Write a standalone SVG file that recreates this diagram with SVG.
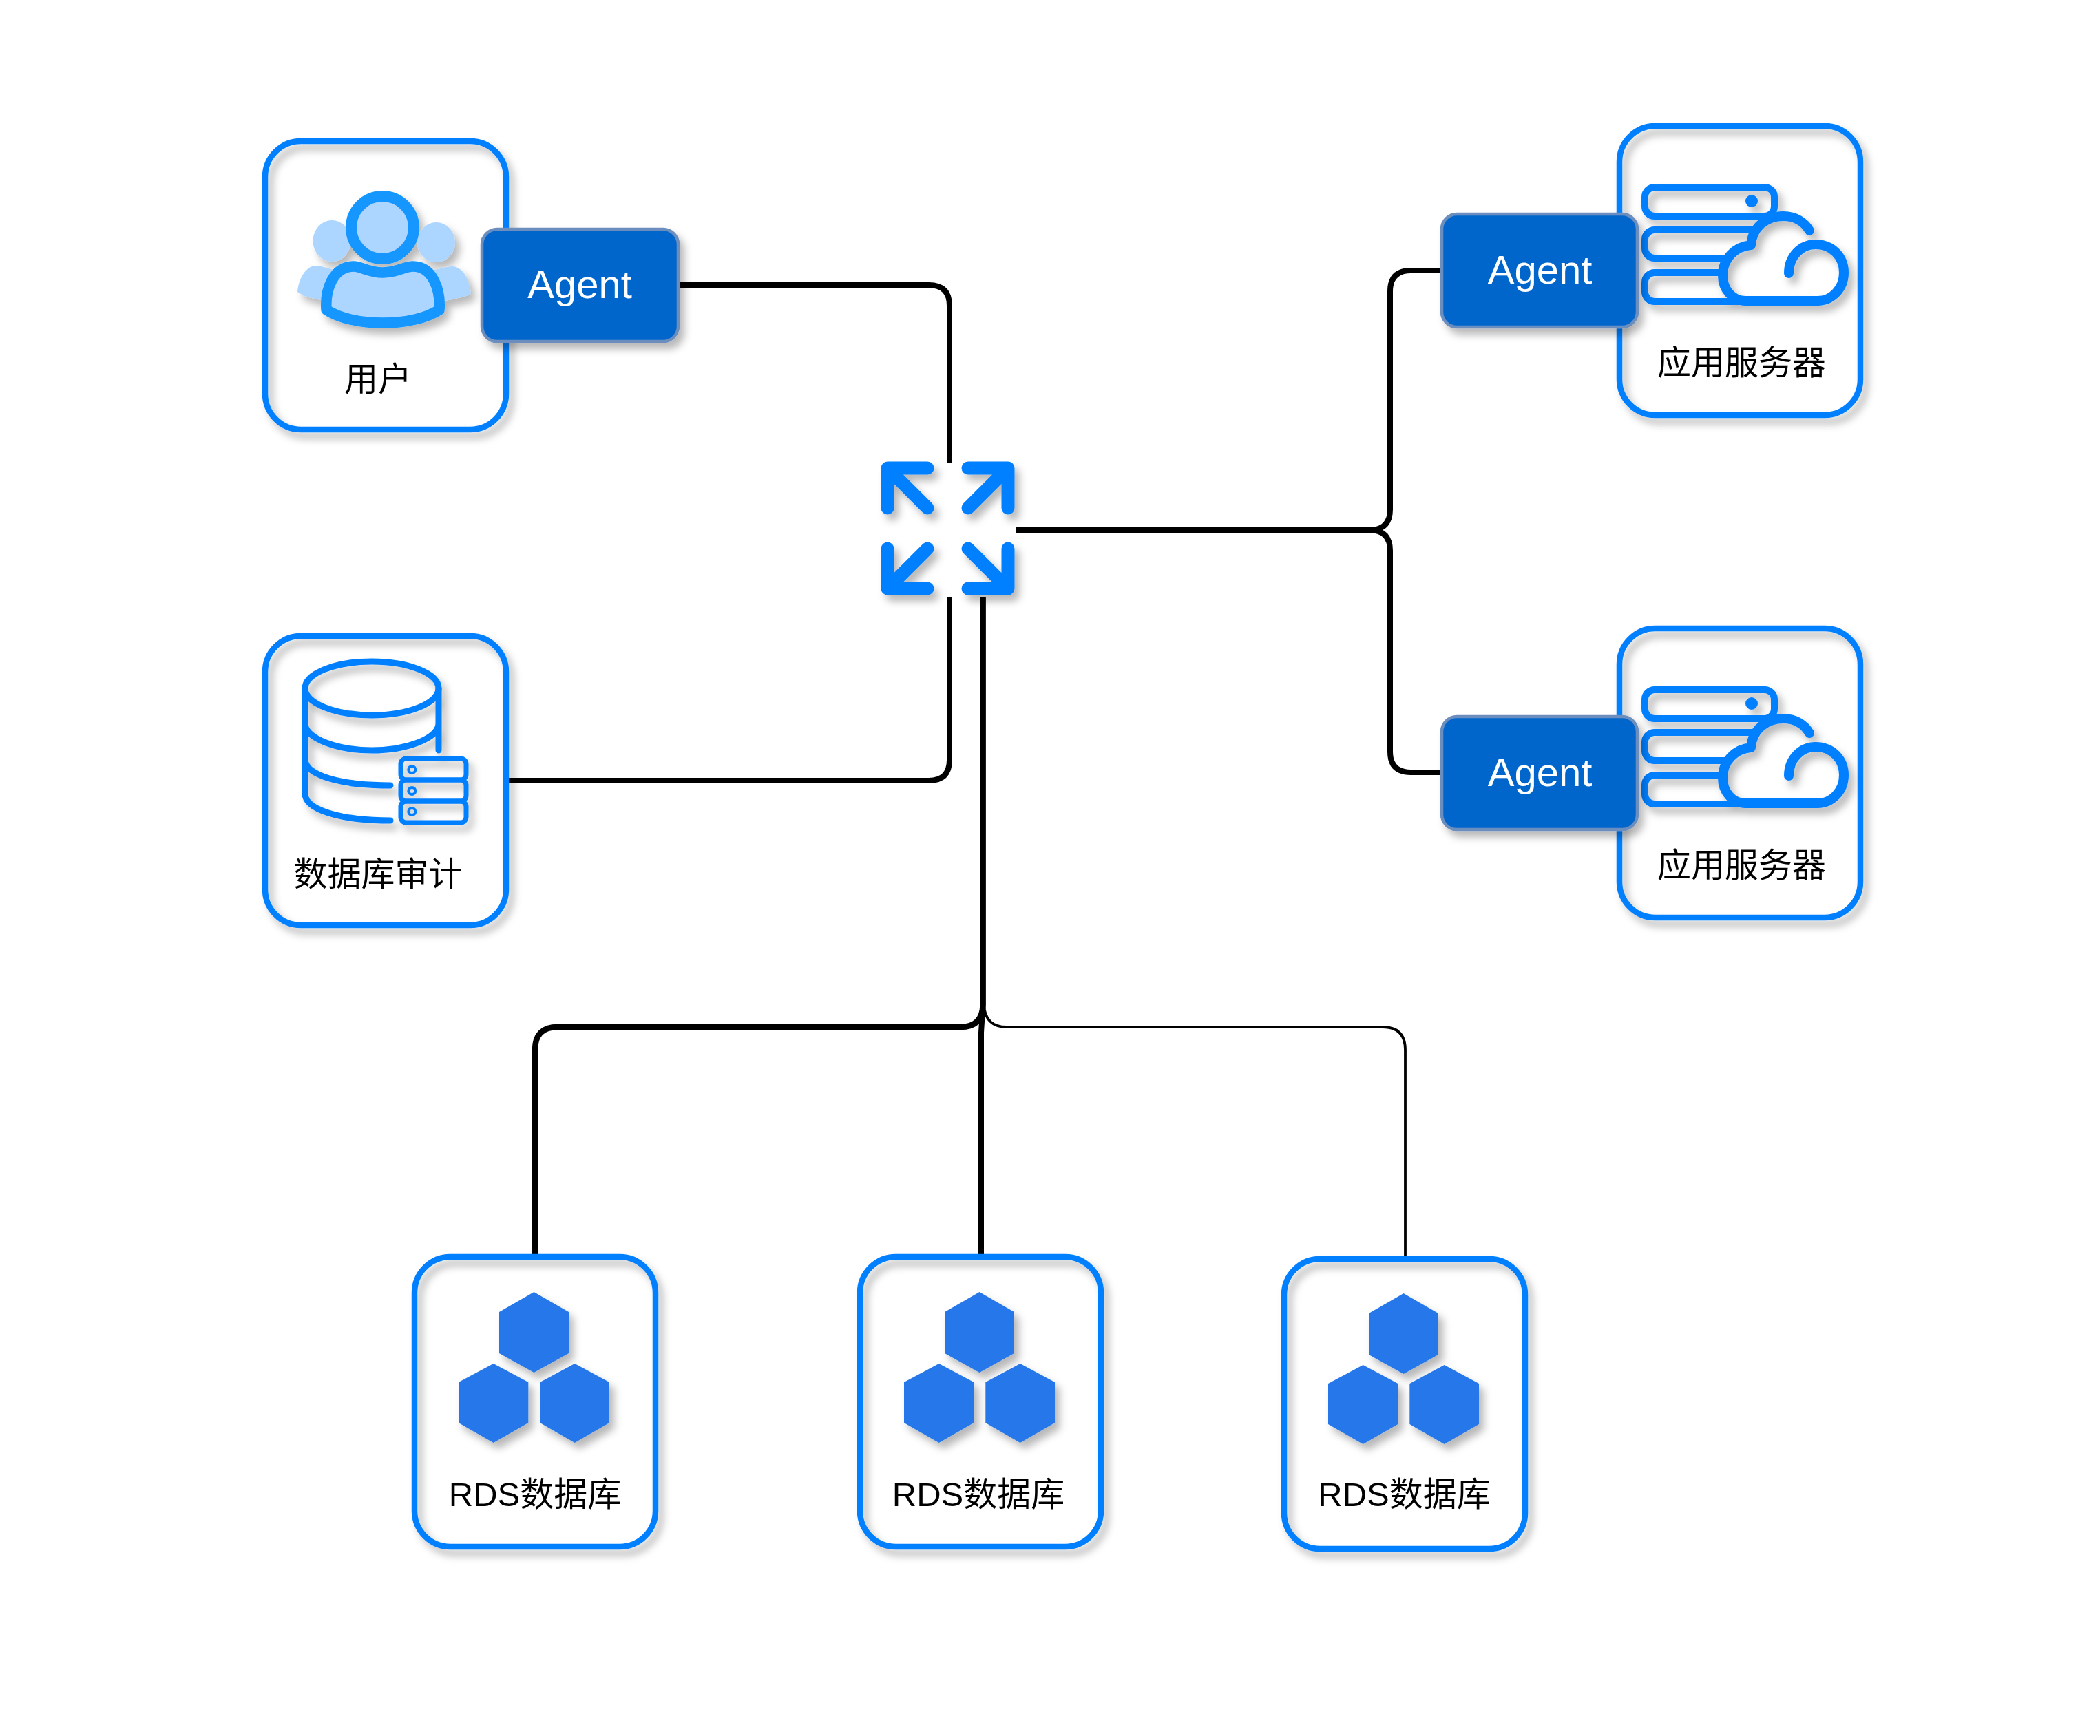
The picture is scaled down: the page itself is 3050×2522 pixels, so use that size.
<svg xmlns="http://www.w3.org/2000/svg" xmlns:xlink="http://www.w3.org/1999/xlink" width="3050" height="2522" viewBox="0 0 3050 2522">
<style>
.box{fill:none;stroke:#007fff;stroke-width:8.5}
.agent{fill:#0066cc;stroke:#6c8ebf;stroke-width:4.5}
.agentText{font-family:"Liberation Sans",Arial,sans-serif;font-size:58px;fill:#fff;text-anchor:middle}
.label{font-family:"Liberation Sans","Noto Sans CJK SC",sans-serif;font-size:49px;fill:#000;text-anchor:middle}
.con{fill:none;stroke:#000;stroke-width:8}
.ln{fill:none;stroke:#007fff;stroke-linecap:round;stroke-linejoin:round}
.hex{fill:#2678ea}
.sh{filter:url(#shadow)}
</style>
<defs>
<filter id="shadow" x="-25%" y="-25%" width="150%" height="150%">
<feDropShadow dx="7" dy="9" stdDeviation="6" flood-color="#000" flood-opacity="0.28"/>
</filter>
<g id="serverIcon" class="sh">
<rect class="ln" x="2389" y="272" width="188" height="42" rx="14" stroke-width="10"/>
<circle cx="2544" cy="292" r="9" fill="#007fff"/>
<path class="ln" stroke-width="10" stroke-linecap="butt" d="M2551 334H2403a14 14 0 0 0-14 14V361a14 14 0 0 0 14 14H2506"/>
<path class="ln" stroke-width="10" stroke-linecap="butt" d="M2500 396H2403a14 14 0 0 0-14 14V424a14 14 0 0 0 14 14H2560"/>
<path class="ln" stroke-width="14" d="M2598 397C2598 372 2616 355 2637 355C2660 355 2678 372 2678 396C2678 420 2660 437 2640 437H2535C2516 437 2502 420 2502 400C2502 376 2520 358 2543 356C2545 330 2565 314 2590 314C2608 314 2621 323 2628 335"/>
</g>
<g id="hexIcon" class="sh">
<polygon class="hex" points="775.5,1877 826,1906 826,1966 775.5,1994 725,1966 725,1906"/>
<polygon class="hex" points="716.7,1981 767.3,2008 767.3,2067 716.7,2096 666,2067 666,2008"/>
<polygon class="hex" points="834.7,1981 885,2008 885,2067 834.7,2096 784.3,2067 784.3,2008"/>
</g>
</defs>
<rect width="3050" height="2522" fill="#fff"/>
<g id="connectors">
<path class="con" d="M985 414H1349Q1379 414 1379 444V672"/>
<path class="con" d="M738 1134H1349Q1379 1134 1379 1104V867"/>
<path class="con" d="M1476 770H1989Q2019 770 2019 740V423Q2019 393 2049 393H2094"/>
<path class="con" d="M1989 770Q2019 770 2019 800V1092Q2019 1122 2049 1122H2094"/>
<path class="con" style="stroke-width:8.5px" d="M1427.500 867V1460Q1427 1492 1395 1492H810Q777 1492 777 1525V1825"/>
<path class="con" d="M1427.500 867V1460L1425 1500V1823"/>
<path class="con" style="stroke-width:3.800px" d="M1429 1460Q1431 1492 1462 1492H2008Q2041 1492 2041 1525V1828"/>
</g>
<g id="node-user">
<rect class="box sh" x="385" y="205" width="350" height="419" rx="52"/>
<g class="sh">
<ellipse cx="482" cy="350" rx="27.500" ry="30" fill="#acd5ff"/>
<ellipse cx="633.500" cy="352" rx="27.500" ry="29" fill="#acd5ff"/>
<path fill="#acd5ff" d="M432 424C434 402 446 386 459 386C470 386 478 392 490 392V436H466C452 433 440 430 432 424Z"/>
<path fill="#acd5ff" d="M684 427C682 403 670 387 657 387C646 387 638 392 626 392V437H646C660 434 674 432 684 427Z"/>
<circle cx="555.500" cy="330.500" r="45.500" fill="#acd5ff" stroke="#1296ff" stroke-width="16"/>
<path fill="#acd5ff" stroke="#1296ff" stroke-width="15.500" stroke-linejoin="round" d="M474 450C472 420 484 387 514 387C525 387 535 396 556 396C577 396 587 387 600 387C628 387 640 420 638 450C620 462 590 469 556 469C522 469 492 462 474 450Z"/>
</g>
<text class="label" x="549" y="568">用户</text>
</g>
<g id="node-agent-user">
<rect class="agent sh" x="700" y="333" width="285" height="163" rx="22"/>
<text class="agentText" x="842" y="433">Agent</text>
</g>
<g id="node-audit">
<rect class="box sh" x="385" y="924" width="350" height="420" rx="52"/>
<g class="sh">
<ellipse cx="540" cy="1000" rx="97" ry="39" fill="none" stroke="#007fff" stroke-width="9"/>
<path class="ln" stroke-width="9" stroke-linecap="butt" d="M443 1000V1153C443 1175 490 1192 567 1192M637 1000V1090M443 1051C443 1073 490 1090 540 1090C590 1090 637 1073 637 1051M443 1103C443 1125 490 1141 567 1141"/>
<rect class="ln" x="582" y="1102" width="95" height="31" rx="8" stroke-width="7"/>
<rect class="ln" x="582" y="1133" width="95" height="31" rx="8" stroke-width="7"/>
<rect class="ln" x="582" y="1164" width="95" height="31" rx="8" stroke-width="7"/>
<circle cx="598.300" cy="1118" r="5" fill="none" stroke="#007fff" stroke-width="4"/>
<circle cx="598.300" cy="1149" r="5" fill="none" stroke="#007fff" stroke-width="4"/>
<circle cx="598.300" cy="1179" r="5" fill="none" stroke="#007fff" stroke-width="4"/>
</g>
<text class="label" x="549" y="1287">数据库审计</text>
</g>
<g id="node-hub" class="sh">
<path class="ln" stroke-width="19" d="M1347 680H1289V738M1289 680L1347 738"/>
<path class="ln" stroke-width="19" d="M1406 680H1464V738M1464 680L1406 738"/>
<path class="ln" stroke-width="19" d="M1347 855H1289V797M1289 855L1347 797"/>
<path class="ln" stroke-width="19" d="M1406 855H1464V797M1464 855L1406 797"/>
</g>
<g id="node-server1">
<rect class="box sh" x="2352" y="183" width="350" height="420" rx="52"/>
<use href="#serverIcon" xlink:href="#serverIcon"/>
<text class="label" x="2529.500" y="544">应用服务器</text>
</g>
<g id="node-agent-server1">
<rect class="agent sh" x="2094" y="311" width="284" height="164" rx="22"/>
<text class="agentText" x="2236.500" y="412">Agent</text>
</g>
<g id="node-server2" transform="translate(0 730)">
<rect class="box sh" x="2352" y="183" width="350" height="420" rx="52"/>
<use href="#serverIcon" xlink:href="#serverIcon"/>
<text class="label" x="2529.500" y="544">应用服务器</text>
</g>
<g id="node-agent-server2" transform="translate(0 730)">
<rect class="agent sh" x="2094" y="311" width="284" height="164" rx="22"/>
<text class="agentText" x="2236.500" y="412">Agent</text>
</g>
<g id="node-rds1">
<rect class="box sh" x="602" y="1826" width="350" height="421" rx="52"/>
<use href="#hexIcon" xlink:href="#hexIcon"/>
<text class="label" x="777" y="2188">RDS数据库</text>
</g>
<g id="node-rds2" transform="translate(647 0)">
<rect class="box sh" x="602" y="1826" width="350" height="421" rx="52"/>
<use href="#hexIcon" xlink:href="#hexIcon"/>
<text class="label" x="774" y="2188">RDS数据库</text>
</g>
<g id="node-rds3" transform="translate(1263 0)">
<rect class="box sh" x="602" y="1829" width="350" height="421" rx="52"/>
<use href="#hexIcon" xlink:href="#hexIcon" y="2"/>
<text class="label" x="776.500" y="2188">RDS数据库</text>
</g>
</svg>
